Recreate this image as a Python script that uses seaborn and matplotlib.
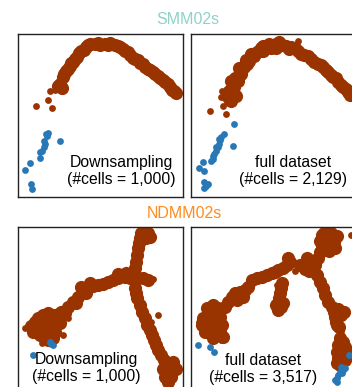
import numpy as np
import pandas as pd
import matplotlib
matplotlib.use("Agg")
import matplotlib.pyplot as plt
import seaborn as sns

sns.set_theme(style="white")
plt.rcParams['font.family'] = ['Liberation Sans', 'DejaVu Sans']

BROWN = "#993300"
BLUE = "#2878b5"

titles = ["SMM02s", "NDMM02s"]
title_colors = ["#8dd3c7", "#ff8b1f"]
labels = ["Downsampling\n(#cells = 1,000)", "full dataset\n(#cells = 2,129)",
          "Downsampling\n(#cells = 1,000)", "full dataset\n(#cells = 3,517)"]

# ---------------- SMM02s, downsampling ----------------
smm_down_core = [(42, 50), (45, 43), (48, 37), (52, 32), (55, 28), (59, 23), (63, 17), (68, 13),
                 (72, 10), (77, 10), (82, 11), (87, 10), (92, 9), (97, 11), (102, 13), (107, 17),
                 (112, 21), (117, 25), (122, 29), (127, 33), (132, 36), (137, 40), (142, 44),
                 (147, 48), (152, 53), (156, 57), (44, 54), (50, 35), (57, 25), (66, 16), (110, 18),
                 (125, 30), (150, 50), (46, 40), (40, 52), (53, 29), (61, 19), (70, 11), (80, 9),
                 (90, 11), (100, 12), (105, 15), (115, 24), (120, 26), (130, 35), (135, 38),
                 (140, 42), (145, 46), (154, 56), (158, 59)]
smm_down_sparse = [(32, 57), (37, 56), (30, 66), (18, 72), (34, 74), (38, 55), (44, 57)]
smm_down_blue = [(28, 100), (30, 99), (29, 102), (27, 110), (26, 113), (24, 117), (22, 118),
                 (22, 124), (12, 129), (7, 136), (13, 150), (14, 155), (42, 107), (26, 107)]
smm_down_curve = [(44, 56), (47, 49), (50, 42), (54, 35), (60, 25), (68, 15), (77, 11),
                  (92, 10), (107, 16), (122, 28), (137, 39), (152, 52), (156, 56)]

# ---------------- SMM02s, full dataset ----------------
smm_full_core = [(40, 67), (42, 60), (43, 53), (47, 47), (50, 40), (53, 33), (58, 27), (63, 22),
                 (68, 17), (75, 13), (82, 12), (88, 8), (95, 12), (100, 13), (107, 17), (113, 21),
                 (120, 25), (127, 30), (132, 33), (137, 38), (142, 43), (147, 48), (152, 53),
                 (157, 58), (36, 62), (38, 57), (45, 62), (40, 47), (55, 26), (70, 14), (78, 10),
                 (91, 11), (104, 14), (117, 22), (145, 44), (155, 55), (60, 20), (49, 37),
                 (39, 63), (44, 44), (48, 34), (56, 30), (66, 18), (72, 12), (80, 14), (85, 10),
                 (98, 15), (110, 20), (123, 28), (130, 31), (135, 36), (140, 41), (150, 51),
                 (159, 61), (72, 17), (85, 14)]
smm_full_sparse = [(31, 57), (30, 63), (32, 72), (19, 77), (35, 80), (36, 68), (107, 7)]
smm_full_blue = [(43, 90), (33, 100), (29, 106), (28, 110), (27, 113), (25, 117), (23, 120),
                 (22, 125), (20, 127), (42, 112), (12, 128), (8, 134), (13, 137), (13, 148),
                 (15, 152), (13, 154), (17, 150), (28, 105), (25, 113), (22, 122), (30, 103)]
smm_full_curve = [(47, 58), (49, 52), (52, 46), (56, 38), (62, 28), (70, 19), (80, 13),
                  (95, 12), (110, 18), (125, 28), (140, 40), (155, 55)]

# ---------------- NDMM02s, downsampling ----------------
ndmm_down_core = [(17, 95), (20, 91), (25, 88), (30, 86), (23, 96), (28, 95), (33, 93), (18, 101),
                  (23, 103), (28, 101), (33, 100), (38, 98), (22, 108), (27, 108), (32, 106),
                  (37, 105), (42, 96), (15, 105), (30, 113), (35, 111), (13, 99), (36, 88),
                  (43, 85), (50, 80), (55, 75), (60, 70), (65, 65), (70, 61), (75, 59), (80, 58),
                  (85, 57), (90, 55), (95, 53), (100, 51), (107, 50), (112, 51), (117, 53),
                  (63, 60), (72, 56), (68, 66), (100, 47), (108, 46), (58, 76), (47, 86),
                  (125, 51), (130, 53),
                  (117, 48), (117, 41), (118, 35), (119, 28), (120, 21), (121, 16), (122, 11),
                  (123, 6), (127, 5), (130, 6), (132, 10), (128, 11), (125, 11),
                  (117, 61), (118, 66), (119, 71), (122, 78), (124, 85), (127, 91), (129, 98),
                  (132, 103), (134, 108), (136, 113), (138, 118), (140, 123), (143, 128),
                  (146, 133), (148, 135), (155, 135), (145, 142), (152, 142), (158, 142),
                  (147, 150), (153, 150), (150, 155)]
ndmm_down_sparse = [(7, 101), (45, 108), (43, 95), (50, 91), (140, 88), (133, 95), (24, 116),
                    (135, 52)]
ndmm_down_blue = [(32, 115), (35, 118), (33, 117), (15, 128)]
ndmm_down_curve_a = [(30, 100), (45, 88), (60, 72), (75, 60), (95, 54), (117, 52)]
ndmm_down_curve_b = [(120, 8), (119, 30), (117, 52)]
ndmm_down_curve_c = [(117, 52), (122, 75), (132, 103), (140, 122), (150, 142)]

# ---------------- NDMM02s, full dataset ----------------
ndmm_full_core = [(16, 81), (22, 78), (19, 86), (26, 85), (12, 91), (17, 93), (24, 91), (29, 90),
                  (11, 98), (16, 100), (21, 98), (26, 98), (31, 98), (14, 105), (19, 106),
                  (24, 105), (29, 105), (22, 111), (32, 110), (27, 81),
                  (34, 80), (37, 75), (41, 70), (44, 66), (49, 65), (54, 63), (57, 60), (52, 70),
                  (46, 73), (61, 53), (66, 51), (71, 50), (76, 48), (81, 46), (84, 45), (87, 43),
                  (92, 41), (96, 38), (99, 35), (97, 31),
                  (91, 56), (90, 61), (89, 66), (88, 71), (87, 76), (85, 78), (90, 80), (87, 83),
                  (92, 76),
                  (109, 38), (116, 36), (121, 35), (124, 38), (114, 42), (118, 44), (116, 31),
                  (127, 31), (129, 25), (131, 18), (132, 13), (136, 10), (139, 11), (142, 10),
                  (137, 18), (134, 23), (140, 6), (133, 6), (143, 15), (129, 14), (131, 8),
                  (138, 24), (144, 21), (146, 9),
                  (126, 48), (129, 55), (132, 61), (134, 68), (137, 75), (141, 80), (143, 85),
                  (144, 90), (145, 95), (146, 98), (150, 88), (153, 85), (148, 100), (147, 82),
                  (149, 111), (152, 115), (147, 118), (151, 121), (154, 120), (146, 125),
                  (149, 128), (152, 128), (147, 131), (151, 135), (154, 133), (149, 138),
                  (146, 136), (156, 126)]
ndmm_full_sparse = [(160, 8), (30, 113), (8, 95), (104, 44), (86, 58), (150, 104)]
ndmm_full_blue = [(7, 118), (19, 120), (23, 125), (158, 128), (152, 143), (149, 145), (151, 146),
                  (147, 148), (146, 151), (144, 153), (154, 141), (146, 155), (150, 140)]
ndmm_full_curve_a = [(20, 98), (34, 82), (50, 66), (65, 53), (85, 44), (99, 36)]
ndmm_full_curve_b = [(99, 36), (120, 38), (130, 25), (137, 12)]
ndmm_full_curve_c = [(124, 40), (132, 62), (141, 82), (146, 100), (149, 118), (150, 135)]

W, H = 352, 387
boxes = [(18, 34), (191, 34), (18, 227), (191, 227)]
PW, PH = 165, 163
text_pos = [(103, 137), (102, 137), (68, 141), (72, 142)]

panels = [
    (smm_down_core, smm_down_sparse, smm_down_blue, [smm_down_curve]),
    (smm_full_core, smm_full_sparse, smm_full_blue, [smm_full_curve]),
    (ndmm_down_core, ndmm_down_sparse, ndmm_down_blue,
     [ndmm_down_curve_a, ndmm_down_curve_b, ndmm_down_curve_c]),
    (ndmm_full_core, ndmm_full_sparse, ndmm_full_blue,
     [ndmm_full_curve_a, ndmm_full_curve_b, ndmm_full_curve_c]),
]

fig = plt.figure(figsize=(W / 100, H / 100), dpi=100)
fig.patch.set_facecolor("white")

for i, ((l, t), (core, sparse, blue, curves)) in enumerate(zip(boxes, panels)):
    ax = fig.add_axes([l / W, 1 - (t + PH) / H, PW / W, PH / H])
    for c in curves:
        cd = pd.DataFrame(c, columns=["x", "y"])
        sns.lineplot(data=cd, x="x", y="y", sort=False, color="black", lw=0.6,
                     ax=ax, zorder=1, estimator=None)
    cd = pd.DataFrame(core, columns=["x", "y"])
    sns.scatterplot(data=cd, x="x", y="y", color=BROWN, s=90, linewidth=0, ax=ax,
                    zorder=2, alpha=1)
    sd = pd.DataFrame(sparse, columns=["x", "y"])
    sns.scatterplot(data=sd, x="x", y="y", color=BROWN, s=24, linewidth=0, ax=ax, zorder=2)
    bd = pd.DataFrame(blue, columns=["x", "y"])
    sns.scatterplot(data=bd, x="x", y="y", color=BLUE, s=24, linewidth=0, ax=ax, zorder=3)
    ax.set_xlim(0, PW)
    ax.set_ylim(PH, 0)
    ax.set_xticks([])
    ax.set_yticks([])
    ax.set_xlabel("")
    ax.set_ylabel("")
    for sp in ax.spines.values():
        sp.set_visible(True)
        sp.set_color("#222222")
        sp.set_linewidth(1.0)
    tx, ty = text_pos[i]
    ax.text(tx, ty, labels[i], ha="center", va="center", fontsize=11.3, color="black",
            linespacing=1.15, zorder=5)

fig.text(188 / W, 1 - 19 / H, titles[0], ha="center", va="center", fontsize=11.5,
         color=title_colors[0])
fig.text(184 / W, 1 - 213 / H, titles[1], ha="center", va="center", fontsize=11.5,
         color=title_colors[1])

fig.savefig("out.png", dpi=100, facecolor="white")
